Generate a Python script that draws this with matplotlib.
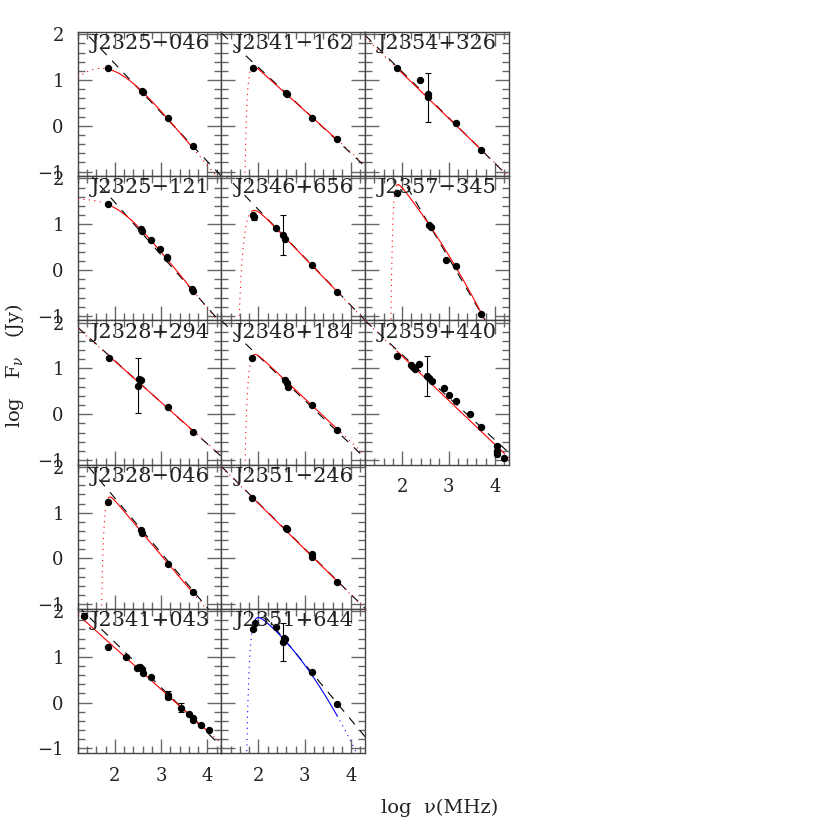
import numpy as np
import matplotlib
matplotlib.use("Agg")
import matplotlib.pyplot as plt
from matplotlib.ticker import MultipleLocator

plt.rcParams['font.family'] = ['DejaVu Serif']
plt.rcParams['mathtext.fontset'] = 'dejavuserif'

# ---------------- data (log nu [MHz], log S [Jy]) ----------------
names = ["J2325\u2212046", "J2341\u2212162", "J2354+326",
         "J2325\u2212121", "J2346+656", "J2357\u2212345",
         "J2328+294", "J2348+184", "J2359+440",
         "J2328\u2212046", "J2351\u2212246",
         "J2341+043", "J2351+644"]
grid_pos = [(0, 0), (0, 1), (0, 2), (1, 0), (1, 1), (1, 2),
            (2, 0), (2, 1), (2, 2), (3, 0), (3, 1), (4, 0), (4, 1)]

x_J2325m046 = [1.86, 2.58, 2.60, 3.14, 3.68]
y_J2325m046 = [1.257, 0.768, 0.733, 0.178, -0.447]
e_J2325m046 = [0, 0, 0, 0, 0]

x_J2341m162 = [1.875, 2.594, 2.62, 3.16, 3.69]
y_J2341m162 = [1.27, 0.724, 0.696, 0.165, -0.293]
e_J2341m162 = [0, 0, 0, 0, 0]

x_J2354p326 = [1.895, 2.385, 2.55, 2.555, 3.17, 3.71]
y_J2354p326 = [1.257, 0.995, 0.69, 0.62, 0.056, -0.53]
e_J2354p326 = [0, 0, 0, 0.53, 0, 0]

x_J2325m121 = [1.86, 2.56, 2.59, 2.79, 2.97, 3.13, 3.135, 3.67, 3.69]
y_J2325m121 = [1.443, 0.90, 0.85, 0.65, 0.47, 0.29, 0.255, -0.41, -0.45]
e_J2325m121 = [0, 0, 0, 0, 0, 0, 0, 0, 0]

x_J2346p656 = [1.875, 1.91, 2.378, 2.52, 2.57, 3.16, 3.69]
y_J2346p656 = [1.20, 1.15, 0.912, 0.765, 0.68, 0.11, -0.486]
e_J2346p656 = [0, 0.06, 0, 0.44, 0, 0, 0]

x_J2357m345 = [1.888, 2.58, 2.62, 2.945, 3.17, 3.71]
y_J2357m345 = [1.69, 0.984, 0.947, 0.22, 0.095, -0.96]
e_J2357m345 = [0, 0, 0, 0, 0, 0]

x_J2328p294 = [1.869, 2.51, 2.53, 2.56, 3.14, 3.68]
y_J2328p294 = [1.235, 0.624, 0.763, 0.745, 0.165, -0.38]
e_J2328p294 = [0, 0.60, 0, 0, 0, 0]

x_J2348p184 = [1.867, 2.572, 2.61, 2.643, 3.16, 3.688]
y_J2348p184 = [1.22, 0.745, 0.68, 0.606, 0.202, -0.344]
e_J2348p184 = [0, 0, 0, 0, 0, 0]

x_J2359p440 = [1.888, 2.19, 2.24, 2.277, 2.37, 2.529, 2.58, 2.637, 2.896,
               3.0, 3.168, 3.456, 3.707, 4.046, 4.05, 4.046, 4.2]
y_J2359p440 = [1.272, 1.07, 1.04, 0.995, 1.097, 0.835, 0.785, 0.726, 0.58,
               0.414, 0.283, -0.001, -0.28, -0.69, -0.80, -0.87, -0.95]
e_J2359p440 = [0, 0, 0, 0, 0, 0.44, 0, 0, 0, 0, 0, 0, 0, 0, 0, 0, 0]

x_J2328m046 = [1.86, 2.559, 2.594, 3.142, 3.68]
y_J2328m046 = [1.24, 0.621, 0.563, -0.121, -0.74]
e_J2328m046 = [0, 0, 0, 0, 0]

x_J2351m246 = [1.867, 2.594, 2.609, 3.148, 3.16, 3.688]
y_J2351m246 = [1.327, 0.672, 0.643, 0.09, 0.04, -0.52]
e_J2351m246 = [0, 0, 0, 0, 0, 0]

x_J2341p043 = [1.336, 1.86, 2.242, 2.486, 2.544, 2.58, 2.615, 2.78, 3.14,
               3.155, 3.422, 3.595, 3.68, 3.694, 3.867, 4.04]
y_J2341p043 = [1.90, 1.222, 1.003, 0.763, 0.785, 0.735, 0.655, 0.554, 0.167,
               0.13, -0.11, -0.248, -0.342, -0.38, -0.48, -0.60]
e_J2341p043 = [0.06, 0, 0, 0, 0, 0, 0, 0, 0.08, 0, 0.1, 0, 0, 0, 0, 0]

x_J2351p644 = [1.875, 1.925, 2.378, 2.52, 2.54, 2.57, 3.16, 3.694]
y_J2351p644 = [1.602, 1.733, 1.66, 1.33, 1.41, 1.38, 0.676, -0.037]
e_J2351p644 = [0, 0, 0, 0.42, 0, 0, 0, 0]

xs_data = [x_J2325m046, x_J2341m162, x_J2354p326, x_J2325m121, x_J2346p656,
           x_J2357m345, x_J2328p294, x_J2348p184, x_J2359p440, x_J2328m046,
           x_J2351m246, x_J2341p043, x_J2351p644]
ys_data = [y_J2325m046, y_J2341m162, y_J2354p326, y_J2325m121, y_J2346p656,
           y_J2357m345, y_J2328p294, y_J2348p184, y_J2359p440, y_J2328m046,
           y_J2351m246, y_J2341p043, y_J2351p644]
es_data = [e_J2325m046, e_J2341m162, e_J2354p326, e_J2325m121, e_J2346p656,
           e_J2357m345, e_J2328p294, e_J2348p184, e_J2359p440, e_J2328m046,
           e_J2351m246, e_J2341p043, e_J2351p644]

# straight power-law reference line (dashed): (log S at log nu = 2, slope)
dashed_fit = [(1.36, -1.07), (1.275, -0.94), (1.18, -1.0),
              (1.48, -1.15), (1.32, -1.05), (2.0, -1.73),
              (1.17, -0.91), (1.27, -0.97), (1.30, -0.93),
              (1.32, -1.2), (1.21, -1.0),
              (1.32, -0.99), (2.06, -1.22)]

# model fits (coloured)
#  'pl'  : (a, alpha)
#  'sbpl': (xb, yb, a1, a2, s)  smooth broken power law
#  'ffa' : (a, alpha, beta, p, xt) curved power law with low-frequency cutoff
model_fit = [("sbpl", (1.62, 2.042, 1.5, -1.22, 0.38)),
             ("ffa", (1.24, -0.91, 0.0, 10.0, 1.787)),
             ("pl", (1.15, -0.98)),
             ("sbpl", (2.0, 1.66, 0.1, -1.25, 1.0)),
             ("ffa", (1.31, -1.05, 0.0, 4.4, 1.767)),
             ("ffa", (1.80, -1.28, -0.19, 12.0, 1.83)),
             ("pl", (1.16, -0.90)),
             ("ffa", (1.29, -0.95, 0.0, 7.8, 1.81)),
             ("pl", (1.27, -0.965)),
             ("ffa", (1.27, -1.2, 0.0, 9.4, 1.80)),
             ("pl", (1.20, -1.0)),
             ("pl", (1.20, -0.91)),
             ("ffa", (1.90, -0.78, -0.30, 7.4, 1.863))]
model_color = ["red"] * 12 + ["blue"]

XLIM = (1.2, 4.3)
YLIM = (-1.1, 2.05)


def model(x, kind, p):
    if kind == "pl":
        a, al = p
        return a + al * (x - 2)
    if kind == "sbpl":
        xb, yb, a1, a2, s = p
        u = x - xb
        return yb - np.log10(10 ** (-a1 * s * u) + 10 ** (-a2 * s * u)) / s
    a, al, be, pp, xt = p
    u = x - 2
    tau = 10 ** np.clip(-pp * (x - xt), -30, 30)
    return a + al * u + be * u ** 2 - np.log10(np.e) * tau


# ---------------- figure ----------------
W = 830.0
fig = plt.figure(figsize=(8.3, 8.3), dpi=100)
left0, pw, top0, ph = 77.7, 143.7, 32.0, 144.2
bottom_panels = {(4, 0), (4, 1), (2, 2)}

for i, name in enumerate(names):
    r, c = grid_pos[i]
    rect = [(left0 + c * pw) / W, 1 - (top0 + (r + 1) * ph) / W, pw / W, ph / W]
    ax = fig.add_axes(rect)
    ax.set_xlim(*XLIM)
    ax.set_ylim(*YLIM)
    for sp in ax.spines.values():
        sp.set_color("#444444")
        sp.set_linewidth(1.0)
    ax.xaxis.set_major_locator(MultipleLocator(1))
    ax.xaxis.set_minor_locator(MultipleLocator(0.2))
    ax.yaxis.set_major_locator(MultipleLocator(1))
    ax.yaxis.set_minor_locator(MultipleLocator(0.2))
    ax.tick_params(which="both", direction="in", top=True, right=True,
                   color="#666666", width=1.0, labelsize=13, pad=10,
                   labelcolor="#222222")
    ax.tick_params(which="major", length=10)
    ax.tick_params(which="minor", length=5)
    ax.tick_params(labelbottom=(r, c) in bottom_panels, labelleft=(c == 0))

    xd = np.array(xs_data[i])
    yd = np.array(ys_data[i])
    ed = np.array(es_data[i])

    # dashed reference power law
    a, al = dashed_fit[i]
    xx = np.linspace(XLIM[0], XLIM[1], 400)
    ax.plot(xx, a + al * (xx - 2), color="black", lw=0.8,
            linestyle=(0, (8, 7)), zorder=2)

    # model fit: solid inside data range, dotted outside
    kind, p = model_fit[i]
    xm = np.linspace(XLIM[0], XLIM[1], 3000)
    ym = model(xm, kind, p)
    ym = np.where(ym < YLIM[0] - 1, YLIM[0] - 1, ym)
    lo, hi = xd.min(), xd.max()
    col = model_color[i]
    m_in = (xm >= lo) & (xm <= hi)
    m_lo = xm <= lo
    m_hi = xm >= hi
    ax.plot(xm[m_in], ym[m_in], color=col, lw=0.8, zorder=3)
    ax.plot(xm[m_lo], ym[m_lo], color=col, lw=0.8, linestyle=(0, (1, 4)), zorder=3)
    ax.plot(xm[m_hi], ym[m_hi], color=col, lw=0.8, linestyle=(0, (1, 4)), zorder=3)

    # data points
    ax.plot(xd, yd, "o", color="black", ms=4.3, zorder=4)
    has = ed > 0
    if has.any():
        ax.errorbar(xd[has], yd[has], yerr=ed[has], fmt="none", ecolor="black",
                    elinewidth=0.8, capsize=2.5, capthick=0.8, zorder=4)

    ax.text(0.09, 0.985, name, transform=ax.transAxes, ha="left", va="top",
            fontsize=15, color="#222222", zorder=5)

fig.text(15 / W, 1 - 366 / W, "log   F$_{\\nu}$   (Jy)", rotation=90,
         ha="center", va="center", fontsize=14, color="#222222")
fig.text(440 / W, 1 - 808 / W, "log  \u03bd(MHz)", ha="center", va="center",
         fontsize=14, color="#222222")

fig.savefig("out.png", dpi=100)
